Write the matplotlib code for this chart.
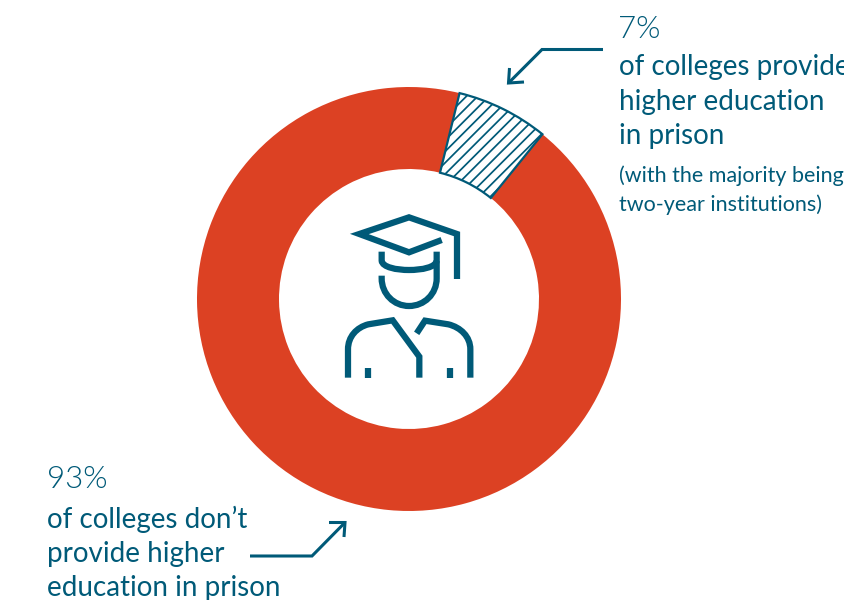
import numpy as np
import matplotlib
matplotlib.use('Agg')
import matplotlib.pyplot as plt
from matplotlib.path import Path
from matplotlib.patches import PathPatch

# Share of colleges, in percent
labels = ['provide', "don't provide"]
shares = [7, 93]

TEAL = '#005a78'
RED = '#dc4123'
H = 600

plt.rcParams['font.family'] = ['Lato', 'DejaVu Sans']


def py(y):
    # y measured from the top edge of the figure
    return H - y


def stroke(ax, pts, lw=2.0, **kw):
    xs = [p[0] for p in pts]
    ys = [py(p[1]) for p in pts]
    ax.plot(xs, ys, color=TEAL, lw=lw, solid_capstyle='butt', solid_joinstyle='miter', **kw)


def curve(ax, x0, y0, verts, lw=4.5):
    # verts holds (code, points) pairs built from icon units
    v = [(x0, py(y0))]
    c = [Path.MOVETO]
    for code, pts in verts:
        for p in pts:
            v.append((p[0], py(p[1])))
            c.append(code)
    ax.add_patch(PathPatch(Path(v, c), fc='none', ec=TEAL, lw=lw, capstyle='butt', joinstyle='miter', zorder=5))


fig = plt.figure(figsize=(8.44, 6), dpi=100)
ax = fig.add_axes([0, 0, 1, 1])

wedges, _ = ax.pie(shares, colors=['white', RED], startangle=51, center=(409, py(299)),
                   radius=212, wedgeprops=dict(width=82, linewidth=0))
ax.set_xlim(0, 844)
ax.set_ylim(0, H)
ax.set_aspect('equal')
ax.axis('off')

# hatched slice: 45 degree lines clipped to the wedge, then its outline
hatch_wedge = wedges[0]
hatch_wedge.set_zorder(2)
for c in np.arange(-200, 200, 11.3):
    ln, = ax.plot([400, 600], [400 + c, 600 + c], color=TEAL, lw=1.25, zorder=3)
    ln.set_clip_path(hatch_wedge)
outline = PathPatch(hatch_wedge.get_path(), transform=hatch_wedge.get_transform(), fc='none', ec=TEAL, lw=1.6, zorder=4)
ax.add_patch(outline)

# graduate icon
L = 4.5
def ic(zx, zy):
    return (330 + zx / 3, 190 + zy / 3)

stroke(ax, [ic(381, 267), ic(381, 132), ic(237, 82), ic(88, 132), ic(237, 187), ic(335, 150)], lw=L, zorder=5)
x0, y0 = ic(155, 185)
curve(ax, x0, y0, [(Path.LINETO, [ic(155, 212)]),
                   (Path.CURVE4, [ic(157, 232), ic(200, 240), ic(237, 240)]),
                   (Path.CURVE4, [ic(275, 240), ic(318, 232), ic(320, 212)])], lw=L)
x0, y0 = ic(320, 185)
curve(ax, x0, y0, [(Path.LINETO, [ic(320, 265)]),
                   (Path.CURVE4, [ic(320, 312), ic(283, 348), ic(237, 348)]),
                   (Path.CURVE4, [ic(192, 348), ic(155, 312), ic(155, 265)]),
                   (Path.LINETO, [ic(155, 257)])], lw=L)
x0, y0 = ic(54, 563)
curve(ax, x0, y0, [(Path.LINETO, [ic(54, 478)]),
                   (Path.CURVE4, [ic(54, 440), ic(80, 412), ic(115, 403)]),
                   (Path.LINETO, [ic(188, 391)]),
                   (Path.LINETO, [ic(268, 500)]),
                   (Path.LINETO, [ic(268, 563)])], lw=L)
x0, y0 = ic(260, 430)
curve(ax, x0, y0, [(Path.LINETO, [ic(285, 392)]),
                   (Path.LINETO, [ic(355, 403)]),
                   (Path.CURVE4, [ic(392, 412), ic(421, 440), ic(421, 478)]),
                   (Path.LINETO, [ic(421, 563)])], lw=L)
stroke(ax, [ic(115, 533), ic(115, 563)], lw=L, zorder=5)
stroke(ax, [ic(360, 533), ic(360, 563)], lw=L, zorder=5)

# leader arrows
stroke(ax, [(603, 49.5), (542, 49.5), (508.5, 83)], lw=2.2)
stroke(ax, [(509.5, 68), (508.5, 83), (524, 82)], lw=2.2)
stroke(ax, [(250, 556), (312, 556), (345, 522.5)], lw=2.2)
stroke(ax, [(329, 522.5), (345, 522.5), (344, 537)], lw=2.2)

# annotations
def label(x, y, s, size, weight='normal'):
    ax.text(x, py(y), s, color=TEAL, fontsize=size, fontweight=weight, va='baseline', ha='left', clip_on=True)

label(618, 38, f'{shares[0]}%', 22.5, 300)
label(619, 75, 'of colleges provide', 20)
label(619, 110, 'higher education', 20)
label(619, 144, 'in prison', 20)
label(619, 182, '(with the majority being', 15.5)
label(619, 211, 'two-year institutions)', 15.5)

label(47, 488, f'{shares[1]}%', 22.5, 300)
label(47, 528, 'of colleges don\u2019t', 20)
label(47, 562, 'provide higher', 20)
label(47, 596, 'education in prison', 20)

fig.savefig('out.png', dpi=100)
